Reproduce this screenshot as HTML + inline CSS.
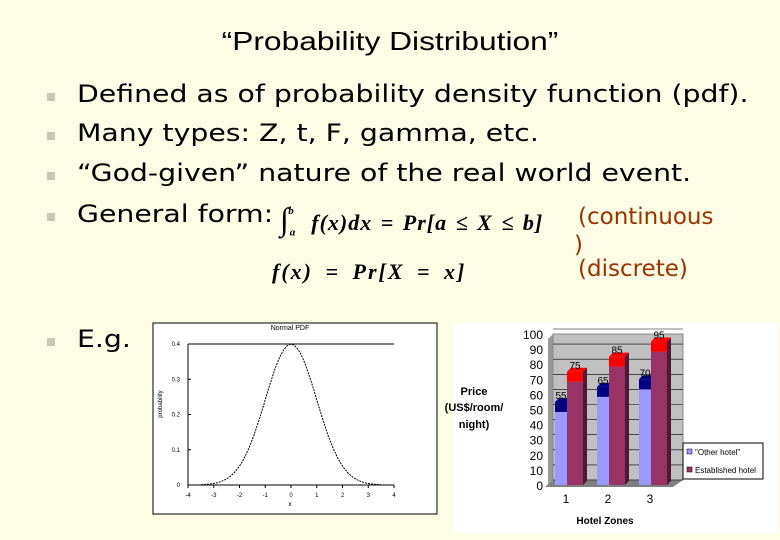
<!DOCTYPE html>
<html><head><meta charset="utf-8"><style>
body{margin:0;width:780px;height:540px;overflow:hidden;background:#fdfde6;font-family:"DejaVu Sans",sans-serif;position:relative}
.t{position:absolute;white-space:nowrap}
.b{position:absolute;left:47px;width:8px;height:8px;background:#c8c8b8}
.li{font-size:24px;color:#000;left:77px;transform:scaleX(1.18);transform-origin:left top}
.m{font-family:"Liberation Serif",serif;font-style:italic;font-weight:bold;font-size:22px}
.br{color:#993300;font-size:23px}
</style></head><body>
<div class="t" style="left:0;width:780px;text-align:center;top:26px;font:26px 'Liberation Sans',sans-serif;transform:scaleX(1.22);transform-origin:390px 0">“Probability Distribution”</div>
<div class="b" style="top:93px"></div>
<div class="b" style="top:132px"></div>
<div class="b" style="top:172px"></div>
<div class="b" style="top:213px"></div>
<div class="b" style="top:338px"></div>
<div class="t li" style="top:80px">Defined as of probability density function (pdf).</div>
<div class="t li" style="top:119px">Many types: Z, t, F, gamma, etc.</div>
<div class="t li" style="top:159px">“God-given” nature of the real world event.</div>
<div class="t li" style="top:200px">General form:</div>
<div class="t m" style="left:280px;top:201px;letter-spacing:1px;word-spacing:2px"><span style="font-size:32px;font-weight:normal">∫</span><sub style="font-size:11px">a</sub><sup style="font-size:11px;position:relative;left:-8px;top:-8px">b</sup> f(x)dx = Pr[a ≤ X ≤ b]</div>
<div class="t m" style="left:272px;top:259px;letter-spacing:2px;word-spacing:5px">f(x) = Pr[X = x]</div>
<div class="t br" style="left:578px;top:204px">(continuous</div>
<div class="t br" style="left:574px;top:232px">)</div>
<div class="t br" style="left:578px;top:256px">(discrete)</div>
<div class="t li" style="top:325px">E.g.</div>

<svg width="780" height="540" style="position:absolute;left:0;top:0">
<g id="pdf"></g>
<g id="bar"></g>
</svg>
<script>
const pdfXTicks=[-4,-3,-2,-1,0,1,2,3,4];
const pdfYTicks=[0,0.1,0.2,0.3,0.4];
const pdfMean=0, pdfSd=1;
const zones=["1","2","3"];
const otherValues=[55,65,70];
const establishedValues=[75,85,95];
const barYTicks=[0,10,20,30,40,50,60,70,80,90,100];
const NS="http://www.w3.org/2000/svg";
function mk(p,tag,a,txt){const e=document.createElementNS(NS,tag);for(const k in a)e.setAttribute(k,a[k]);if(txt!==undefined)e.textContent=txt;p.appendChild(e);return e;}
// PDF chart
const g=document.getElementById('pdf');
const px=v=>188+(v+4)*(394-188)/8, py=v=>485-v*(485-344)/0.4;
let r=mk(g,'rect',{x:153,y:323,width:284,height:191,fill:'#fff',stroke:'#000'});

let t=mk(g,'text',{x:290,y:330,'font-size':7,'text-anchor':'middle','font-family':'Liberation Sans'},'Normal PDF');

mk(g,'line',{x1:px(-4),y1:py(0),x2:px(4),y2:py(0),stroke:'#000'});
mk(g,'line',{x1:px(-4),y1:py(0),x2:px(-4),y2:py(0.4),stroke:'#000'});
mk(g,'line',{x1:px(-4),y1:py(0.4),x2:px(4),y2:py(0.4),stroke:'#000'});
pdfXTicks.forEach(v=>{mk(g,'line',{x1:px(v),y1:py(0),x2:px(v),y2:py(0)+3,stroke:'#000'});
 const l=mk(g,'text',{x:px(v),y:py(0)+12,'font-size':6,'text-anchor':'middle','font-family':'Liberation Sans'},v);
 });
pdfYTicks.forEach(v=>{mk(g,'line',{x1:px(-4),y1:py(v),x2:px(-4)+3,y2:py(v),stroke:'#000'});
 const l=mk(g,'text',{x:px(-4)-8,y:py(v)+2,'font-size':6,'text-anchor':'end','font-family':'Liberation Sans'},v);
 });
let yl=mk(g,'text',{x:162,y:404,'font-size':6,'text-anchor':'middle',transform:'rotate(-90 162 404)','font-family':'Liberation Sans'},'probability');

let xl=mk(g,'text',{x:290,y:506,'font-size':6,'text-anchor':'middle'},'x');

let d='';for(let x=-3.5;x<=3.5001;x+=0.05){const y=Math.exp(-((x-pdfMean)**2)/(2*pdfSd*pdfSd))/(pdfSd*Math.sqrt(2*Math.PI));d+=(d?'L':'M')+px(x).toFixed(1)+','+py(y).toFixed(1);}
let c=mk(g,'path',{d:d,fill:'none',stroke:'#000','stroke-width':1,'stroke-dasharray':'2,1'});

// bar chart
const b=document.getElementById('bar');
const by=v=>485-v*1.51;
let bg=mk(b,'rect',{x:453,y:323,width:325,height:210,fill:'#fff'});

mk(b,'polygon',{points:`548,${by(0)} 553,${by(0)-5} 553,${by(100)} 548,${by(100)+5}`,fill:'#999'});
mk(b,'rect',{x:553,y:by(100),width:130,height:by(0)-by(100)-5,fill:'#c0c0c0',stroke:'#888'});
mk(b,'polygon',{points:`545,${by(0)+2} 553,${by(0)-5} 683,${by(0)-5} 673,${by(0)+2}`,fill:'#808080'});
barYTicks.forEach(v=>{mk(b,'line',{x1:553,y1:by(v)-5,x2:683,y2:by(v)-5,stroke:'#000','stroke-width':0.6});
 const l=mk(b,'text',{x:543,y:by(v)+5,'font-size':12,'text-anchor':'end','font-family':'Liberation Sans'},v);
 });
const zx=i=>555+i*42;
zones.forEach((z,i)=>{
 const x=zx(i);
 [[otherValues[i],'#9999ff','#000080',x,12],[establishedValues[i],'#993366','#ff0000',x+12,16]].forEach(([v,col,cap,bx,w],j)=>{
  const top=by(v);
  const s=mk(b,'polygon',{points:`${bx+w},${by(0)} ${bx+w+4},${by(0)-4} ${bx+w+4},${top-4} ${bx+w},${top}`,fill:j?'#4d1a33':'#4d4d80'});
  const body=mk(b,'rect',{x:bx,y:top+10,width:w,height:by(0)-top-10,fill:col});
  
  mk(b,'rect',{x:bx,y:top,width:w,height:10,fill:cap});
  mk(b,'polygon',{points:`${bx},${top} ${bx+4},${top-4} ${bx+w+4},${top-4} ${bx+w},${top}`,fill:cap});
  const lb=mk(b,'text',{x:bx+w/2,y:top-3,'font-size':10,'text-anchor':'middle','font-family':'Liberation Sans'},v);
  
 });
 const zl=mk(b,'text',{x:x+11,y:503,'font-size':12,'text-anchor':'middle','font-family':'Liberation Sans'},z);
 
});
[['Price',395],['(US$/room/',411],['night)',428]].forEach(([s,y])=>{const l=mk(b,'text',{x:474,y:y,'font-size':11,'font-weight':'bold','text-anchor':'middle','font-family':'Liberation Sans'},s);
 });
let xt=mk(b,'text',{x:605,y:524,'font-size':10,'font-weight':'bold','text-anchor':'middle','font-family':'Liberation Sans'},'Hotel Zones');

let lg=mk(b,'rect',{x:683,y:443,width:80,height:36,fill:'#fff',stroke:'#000'});

mk(b,'rect',{x:687,y:449,width:5,height:5,fill:'#9999ff',stroke:'#000','stroke-width':0.5});
mk(b,'rect',{x:687,y:467,width:5,height:5,fill:'#993366',stroke:'#000','stroke-width':0.5});
let l1=mk(b,'text',{x:695,y:455,'font-size':8,'font-family':'Liberation Sans'},'"Other hotel"');

let l2=mk(b,'text',{x:695,y:473,'font-size':8,'font-family':'Liberation Sans'},'Established hotel');

</script>
</body></html>
